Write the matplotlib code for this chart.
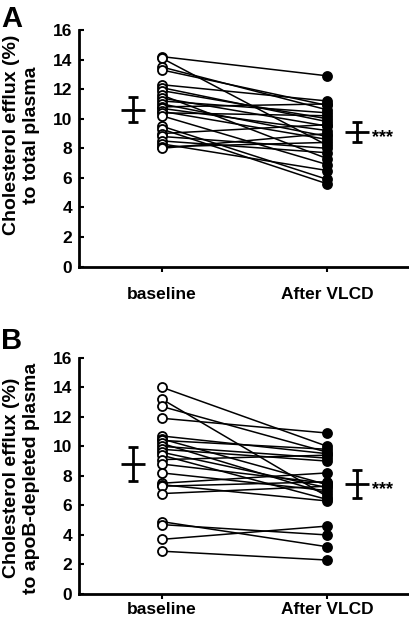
import matplotlib
matplotlib.use("Agg")
import matplotlib.pyplot as plt

plt.rcParams["font.family"] = ["Liberation Sans", "DejaVu Sans"]
plt.rcParams["font.weight"] = "bold"

groups = ["baseline", "After VLCD"]
yticks = [0, 2, 4, 6, 8, 10, 12, 14, 16]

# panel A: efflux to total plasma (paired)
a_base = [14.2, 14.1, 13.5, 13.3, 12.3, 12.1, 11.9, 11.6, 11.4, 11.2, 11.0, 10.8,
          10.7, 10.5, 10.4, 10.2, 9.5, 9.3, 9.0, 8.8, 8.5, 8.3, 8.1, 8.0]
a_after = [12.9, 8.2, 10.6, 10.9, 11.2, 9.8, 10.0, 7.3, 9.5, 10.4, 8.8, 11.0,
           9.2, 8.6, 10.2, 6.9, 5.9, 5.6, 9.6, 8.0, 7.7, 6.5, 8.4, 9.0]
a_mean = [10.6, 9.1]
a_err = [0.85, 0.7]

# panel B: efflux to apoB-depleted plasma (paired)
b_base = [14.0, 13.2, 12.7, 11.9, 10.7, 10.5, 10.4, 10.2, 10.0, 9.8, 9.6, 9.4,
          9.1, 8.8, 8.2, 7.5, 7.4, 7.3, 6.8, 4.9, 4.7, 3.7, 2.9]
b_after = [10.0, 6.6, 9.6, 10.9, 9.5, 7.4, 9.8, 6.8, 9.2, 9.0, 7.2, 6.4,
           9.4, 7.5, 7.0, 8.2, 6.3, 7.6, 7.3, 3.2, 4.0, 4.6, 2.3]
b_mean = [8.8, 7.45]
b_err = [1.15, 0.93]

fig = plt.figure(figsize=(4.1, 6.27), dpi=100)
axA = fig.add_axes([0.1927, 0.5747, 0.8073, 0.3775])
axB = fig.add_axes([0.1927, 0.0526, 0.8073, 0.3769])


def draw(ax, base, after, mean, err, ylabel, label_y, xpad):
    for b, a in zip(base, after):
        ax.plot([1, 2], [b, a], color="black", lw=1.1, zorder=2)
    ax.plot([1] * len(base), base, "o", ms=6.5, mfc="white", mec="black",
            mew=1.3, zorder=3, clip_on=False)
    ax.plot([2] * len(after), after, "o", ms=6.5, mfc="black", mec="black",
            mew=1.3, zorder=3, clip_on=False)
    ax.errorbar([0.826, 2.18], mean, yerr=err, fmt="_", ms=17, mew=2,
                color="black", elinewidth=2, capsize=3.3, capthick=2)
    ax.text(2.27, mean[1] - 0.35, "***", ha="left", va="center", fontsize=13,
            fontweight="bold")
    ax.set_xlim(0.5, 2.5)
    ax.set_ylim(0, 16)
    ax.set_yticks(yticks)
    ax.set_xticks([1, 2])
    ax.set_xticklabels(groups)
    ax.spines["top"].set_visible(False)
    ax.spines["right"].set_visible(False)
    ax.spines["left"].set_linewidth(2)
    ax.spines["bottom"].set_linewidth(2)
    ax.tick_params(axis="y", direction="in", length=3.5, width=1.5,
                   labelsize=12.5, pad=5)
    ax.tick_params(axis="x", direction="out", length=3.5, width=1.5,
                   labelsize=12.5, pad=xpad)
    ax.set_ylabel(ylabel, fontsize=14, fontweight="bold", linespacing=1.25)
    ax.yaxis.set_label_coords(-0.118, label_y)


draw(axA, a_base, a_after, a_mean, a_err,
     "Cholesterol efflux (%)\nto total plasma", 0.556, 11)
draw(axB, b_base, b_after, b_mean, b_err,
     "Cholesterol efflux (%)\nto apoB-depleted plasma", 0.49, 2.5)

fig.text(0.002, 0.992, "A", fontsize=21, fontweight="bold", va="top", ha="left")
fig.text(0.002, 0.478, "B", fontsize=21, fontweight="bold", va="top", ha="left")

fig.savefig("out.png", dpi=100)
